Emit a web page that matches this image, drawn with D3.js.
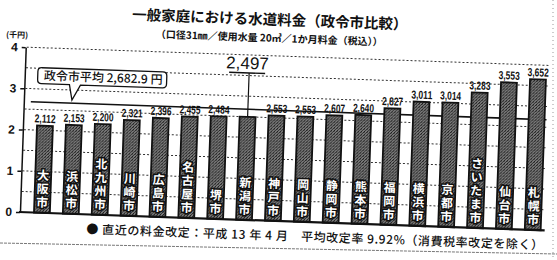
<!DOCTYPE html>
<html>
<head>
<meta charset="utf-8">
<script src="https://cdn.jsdelivr.net/npm/d3@7/dist/d3.min.js"></script>
<style>
    body { margin: 0; background: #fff; }
    svg { display: block; }
    text.jp { font-family: "Noto Sans CJK JP", "Noto Sans", sans-serif; font-weight: 700; fill: #111; }
    text.num { font-family: "Liberation Sans Narrow", "Liberation Sans", Arial, sans-serif; fill: #111; }
    .grid line { stroke: #333; stroke-width: 1; stroke-dasharray: 2, 2; }
    .yaxis path, .yaxis line { stroke: #111; stroke-width: 1.5; }
    .yaxis text { font-family: "Liberation Sans", Arial, sans-serif; font-size: 12px; font-weight: 700; fill: #111; }
</style>
</head>
<body>
<div id="chart"></div>
<script>
    var cities = ["大阪市", "浜松市", "北九州市", "川崎市", "広島市", "名古屋市", "堺市", "新潟市", "神戸市",
        "岡山市", "静岡市", "熊本市", "福岡市", "横浜市", "京都市", "さいたま市", "仙台市", "札幌市"];
    var charges = [2112, 2153, 2200, 2321, 2396, 2455, 2484, 2497, 2553,
        2553, 2607, 2640, 2827, 3011, 3014, 3283, 3553, 3652];
    var highlightCity = "新潟市";
    var average = 2682.9;
    var yTicks = [0, 1000, 2000, 3000, 4000];
    var gridValues = [500, 1000, 1500, 2000, 2500, 3000, 3500, 4000];

    var width = 557, height = 260;
    var data = cities.map(function (c, i) { return { city: c, value: charges[i] }; });

    var svg = d3.select("#chart").append("svg")
        .attr("width", width)
        .attr("height", height);

    var defs = svg.append("defs");
    var pat = defs.append("pattern")
        .attr("id", "halftone")
        .attr("patternUnits", "userSpaceOnUse")
        .attr("width", 3).attr("height", 3);
    pat.append("rect").attr("width", 3).attr("height", 3).attr("fill", "#7a7a7a");
    [[0, 0, "#222"], [2, 1, "#333"], [1, 2, "#1a1a1a"], [1, 0, "#555"]].forEach(function (p) {
        pat.append("rect").attr("x", p[0]).attr("y", p[1]).attr("width", 1).attr("height", 1).attr("fill", p[2]);
    });

    // scanned page is slightly tilted
    var g = svg.append("g").attr("transform", "rotate(2, 278, 130)");

    var x = d3.scaleBand()
        .domain(cities)
        .range([30.5, 550.5])
        .paddingInner(0.45)
        .paddingOuter(0.225);

    var y = d3.scaleLinear()
        .domain([0, 4000])
        .range([221, 56]);

    // title
    g.append("text").attr("class", "jp")
        .attr("x", 266).attr("y", 25)
        .attr("text-anchor", "middle")
        .style("font-size", "14.5px")
        .text("一般家庭における水道料金（政令市比較）");

    g.append("text").attr("class", "jp")
        .attr("x", 266).attr("y", 42)
        .attr("text-anchor", "middle")
        .style("font-size", "10px")
        .text("（口径31㎜／使用水量 20㎥／1か月料金（税込））");

    g.append("text").attr("class", "jp")
        .attr("x", 14).attr("y", 47)
        .attr("text-anchor", "middle")
        .style("font-size", "8px")
        .text("(千円)");

    // dotted grid
    g.append("g").attr("class", "grid")
        .selectAll("line")
        .data(gridValues)
        .enter().append("line")
        .attr("x1", 24).attr("x2", 548)
        .attr("y1", function (d) { return y(d); })
        .attr("y2", function (d) { return y(d); });

    // average line
    g.append("line")
        .attr("x1", 30).attr("x2", 546)
        .attr("y1", y(average)).attr("y2", y(average))
        .attr("stroke", "#111").attr("stroke-width", 1.6);

    // bars
    g.selectAll("rect.bar")
        .data(data)
        .enter().append("rect")
        .attr("class", "bar")
        .attr("x", function (d) { return x(d.city); })
        .attr("y", function (d) { return y(d.value); })
        .attr("width", x.bandwidth())
        .attr("height", function (d) { return y(0) - y(d.value); })
        .attr("fill", "url(#halftone)")
        .attr("stroke", "#111")
        .attr("stroke-width", 1.8);

    // value labels
    g.selectAll("text.val")
        .data(data.filter(function (d) { return d.city !== highlightCity; }))
        .enter().append("text")
        .attr("class", "num val")
        .attr("x", function (d) { return x(d.city) + x.bandwidth() / 2; })
        .attr("y", function (d) { return y(d.value) - 3; })
        .attr("text-anchor", "middle")
        .attr("textLength", 21)
        .attr("lengthAdjust", "spacingAndGlyphs")
        .style("font-size", "11.5px")
        .style("font-weight", "700")
        .text(function (d) { return d3.format(",")(d.value); });

    // city names, vertical, from the bottom of each bar
    data.forEach(function (d) {
        var chars = Array.from(d.city);
        var cx = x(d.city) + x.bandwidth() / 2;
        g.selectAll(null)
            .data(chars)
            .enter().append("text")
            .attr("class", "jp")
            .attr("x", cx)
            .attr("y", function (c, i) { return 215 - (chars.length - 1 - i) * 13.5; })
            .attr("text-anchor", "middle")
            .style("font-size", "12px")
            .style("fill", "#fff")
            .style("stroke", "#111")
            .style("stroke-width", 3)
            .style("paint-order", "stroke")
            .text(function (c) { return c; });
    });

    // axes
    g.append("line")
        .attr("x1", 22).attr("x2", 548)
        .attr("y1", y(0)).attr("y2", y(0))
        .attr("stroke", "#111").attr("stroke-width", 2.2);

    g.append("g").attr("class", "yaxis")
        .attr("transform", "translate(23,0)")
        .call(d3.axisLeft(y)
            .tickValues(yTicks)
            .tickSize(4)
            .tickSizeOuter(0)
            .tickPadding(4)
            .tickFormat(function (d) { return d / 1000; }));

    // average callout
    var bx0 = 36, bx1 = 165, by0 = 76, by1 = 92, r = 4;
    var tipX = 71, tipY = y(average) - 3;
    g.append("path")
        .attr("d", "M" + (bx0 + r) + "," + by0 + " H" + (bx1 - r) +
            " Q" + bx1 + "," + by0 + " " + bx1 + "," + (by0 + r) +
            " V" + (by1 - r) + " Q" + bx1 + "," + by1 + " " + (bx1 - r) + "," + by1 +
            " H" + (tipX + 8) + " L" + tipX + "," + tipY + " L" + (tipX - 3) + "," + by1 +
            " H" + (bx0 + r) + " Q" + bx0 + "," + by1 + " " + bx0 + "," + (by1 - r) +
            " V" + (by0 + r) + " Q" + bx0 + "," + by0 + " " + (bx0 + r) + "," + by0 + " Z")
        .attr("fill", "#fff")
        .attr("stroke", "#111")
        .attr("stroke-width", 1.3);

    g.append("text").attr("class", "jp")
        .attr("x", (bx0 + bx1) / 2 + 1).attr("y", by1 - 4)
        .attr("text-anchor", "middle")
        .style("font-size", "12px")
        .style("font-weight", "500")
        .text("政令市平均 " + d3.format(",.1f")(average) + " 円");

    // highlighted city callout
    var hi = data.filter(function (d) { return d.city === highlightCity; })[0];
    var hx = x(hi.city) + x.bandwidth() / 2;
    g.append("text").attr("class", "num")
        .attr("x", hx - 2).attr("y", 70)
        .attr("text-anchor", "middle")
        .style("font-family", "'Liberation Sans', Arial, sans-serif")
        .style("font-size", "17px")
        .text(d3.format(",")(hi.value));
    g.append("line")
        .attr("x1", hx - 20).attr("x2", hx + 16)
        .attr("y1", 74).attr("y2", 74)
        .attr("stroke", "#111").attr("stroke-width", 1.4);
    g.append("line")
        .attr("x1", hx).attr("x2", hx)
        .attr("y1", 74).attr("y2", y(hi.value))
        .attr("stroke", "#111").attr("stroke-width", 1.2);

    // footnote
    g.append("text").attr("class", "jp")
        .attr("x", 90).attr("y", 240)
        .attr("textLength", 457)
        .attr("lengthAdjust", "spacing")
        .style("font-size", "12px")
        .style("font-weight", "500")
        .text("● 直近の料金改定：平成 13 年 4 月　平均改定率 9.92%（消費税率改定を除く）");

    // page border of the scan
    svg.append("line")
        .attr("x1", 0).attr("y1", 243).attr("x2", 557).attr("y2", 254)
        .attr("stroke", "#777").attr("stroke-width", 1).attr("stroke-dasharray", "3,1");
    svg.append("line")
        .attr("x1", 553).attr("y1", 0).attr("x2", 553).attr("y2", 260)
        .attr("stroke", "#999").attr("stroke-width", 1).attr("stroke-dasharray", "1,3");
</script>
</body>
</html>
